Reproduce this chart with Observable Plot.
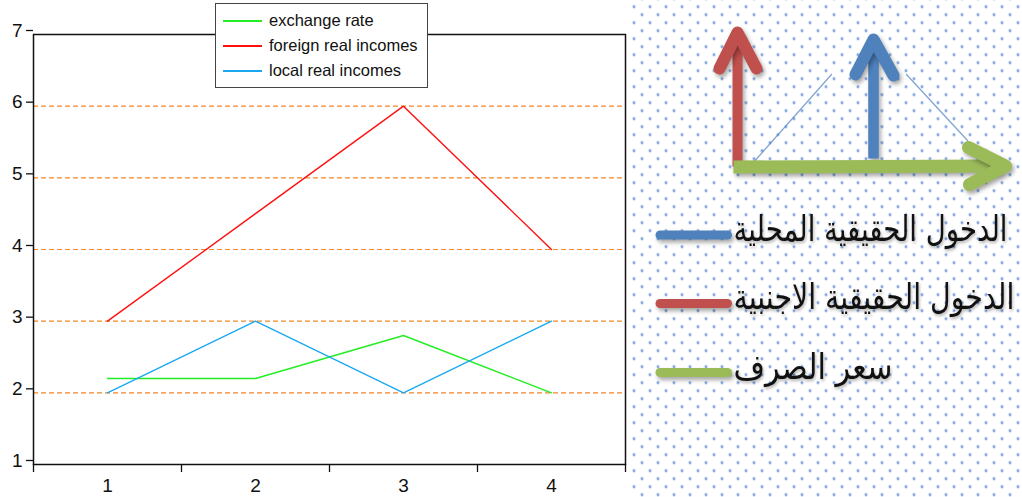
<!DOCTYPE html>
<html><head><meta charset="utf-8">
<script src="https://cdn.jsdelivr.net/npm/d3@7"></script>
<script src="https://cdn.jsdelivr.net/npm/@observablehq/plot@0.6"></script>
<style>
html,body{margin:0;padding:0;background:#fff;}
#wrap{position:relative;width:1022px;height:497px;overflow:hidden;background:#fff;}
#left{position:absolute;left:0;top:0;width:630px;height:497px;}
#right{position:absolute;left:630px;top:0;width:392px;height:497px;
 background-image:
  radial-gradient(circle at center, #7fa5dc 0, #7fa5dc 0.9px, rgba(127,165,220,0.35) 1.6px, rgba(255,255,255,0) 2.2px),
  radial-gradient(circle at center, #7fa5dc 0, #7fa5dc 0.9px, rgba(127,165,220,0.35) 1.6px, rgba(255,255,255,0) 2.2px);
 background-size:16px 16px,16px 16px;
 background-position:4px 6.7px,-4px -1.3px;}
#legend{position:absolute;left:215px;top:3px;width:211px;height:83px;border:1px solid #444;background:#fff;
 font-family:"Liberation Sans",Arial,sans-serif;font-size:16.5px;color:#111;}
#legend .sw{position:absolute;left:7px;width:39px;height:2px;}
#legend .lb{position:absolute;left:53px;height:20px;line-height:20px;white-space:nowrap;}
</style>
</head><body>
<div id="wrap">
  <div id="left"></div>
  <div id="legend"></div>
  <div id="right"></div>
</div>
<script>
// ---- data ----
const periods = [1, 2, 3, 4];
const exchangeRate = [2.2, 2.2, 2.8, 2.0];
const foreignIncomes = [3, 4.5, 6, 4];
const localIncomes = [2, 3, 2, 3];
const seriesNames = ["exchange rate", "foreign real incomes", "local real incomes"];
const seriesColors = ["#22ee22", "#ff1010", "#1aa8f2"];
const yTicks = [1, 2, 3, 4, 5, 6, 7];
const gridValues = [2, 3, 4, 5, 6];
const xBoundaries = [0.5, 1.5, 2.5, 3.5, 4.5];

// decorative panel (page pixel coordinates)
const arabicLabels = ["الدخول الحقيقية المحلية", "الدخول الحقيقية الاجنبية", "سعر الصرف"];
const arabicColors = ["#4f81bd", "#c0504d", "#9bbb59"];
const arabicY = [229, 297, 367];
const arabicWidths = [274, 281, 159];
const swatchY = [234.5, 303, 372];
const redShaft = [[737, 166], [737, 40]];
const blueShaft = [[873, 158], [873, 46]];
const greenShaft = [[733, 166.5], [1000, 165.5]];
const redHead = [[719, 68], [737, 32], [756, 68]];
const blueHead = [[855, 74], [873, 39], [893, 75]];
const greenHead = [[968, 147], [1005, 165.5], [969, 184]];
const thinLine1 = [[752, 163], [831, 74]];
const thinLine2 = [[906, 74], [967, 140]];

// ---- left chart ----
const seriesValues = [exchangeRate, foreignIncomes, localIncomes];
const left = Plot.plot({
  width: 630, height: 497,
  marginLeft: 33, marginRight: 5, marginTop: 34, marginBottom: 33,
  x: {domain: [0.5, 4.5]},
  y: {domain: [1, 7]},
  style: {fontFamily: "Liberation Sans, Arial, sans-serif", fontSize: "19px", color: "#111", background: "white"},
  marks: [
    Plot.ruleY(gridValues, {stroke: "#f08a2a", strokeDasharray: "5,3", strokeWidth: 1.1}),
    ...seriesValues.map((vals, k) =>
      Plot.lineY(vals, {x: (d, i) => periods[i], y: d => d, stroke: seriesColors[k], strokeWidth: 1.4})
    ),
    Plot.axisY(yTicks, {tickSize: 7, tickPadding: 4, fontSize: 19, dy: -4, label: null, strokeWidth: 1.3, tickFormat: d => String(d)}),
    Plot.axisX(xBoundaries, {tickSize: 8, tickFormat: () => "", label: null, strokeWidth: 1.3}),
    Plot.axisX(periods, {tickSize: 0, tickPadding: 14, fontSize: 19, label: null, tickFormat: d => String(d)}),
    Plot.frame({stroke: "#111", strokeWidth: 1.5})
  ]
});
document.getElementById("left").appendChild(left);

// legend
const legend = document.getElementById("legend");
const rowCenters = [17, 42, 67];
seriesNames.forEach((name, i) => {
  const sw = document.createElement("div");
  sw.className = "sw";
  sw.style.top = (rowCenters[i] - 1) + "px";
  sw.style.background = seriesColors[i];
  legend.appendChild(sw);
  const lb = document.createElement("div");
  lb.className = "lb";
  lb.style.top = (rowCenters[i] - 11) + "px";
  lb.textContent = name;
  legend.appendChild(lb);
});

// ---- right decorative panel ----
const P = a => a.map(([x, y]) => ({x, y}));
const swatches = swatchY.map(y => P([[659.5, y], [727, y]]));
const right = Plot.plot({
  width: 392, height: 497, margin: 0,
  x: {domain: [630, 1022], range: [0, 392], axis: null},
  y: {domain: [0, 497], range: [0, 497], axis: null},
  style: {background: "transparent"},
  marks: [
    Plot.line(P(thinLine1), {x: "x", y: "y", stroke: "#5b86c4", strokeWidth: 1.3, strokeOpacity: 0.75}),
    Plot.line(P(thinLine2), {x: "x", y: "y", stroke: "#5b86c4", strokeWidth: 1.3, strokeOpacity: 0.75}),
    Plot.line(P(redShaft), {x: "x", y: "y", stroke: "#c0504d", strokeWidth: 10, strokeLinecap: "butt"}),
    Plot.line(P(redHead), {x: "x", y: "y", stroke: "#c0504d", strokeWidth: 12, strokeLinecap: "round", strokeLinejoin: "round"}),
    Plot.line(P(blueShaft), {x: "x", y: "y", stroke: "#4f81bd", strokeWidth: 10.5, strokeLinecap: "butt"}),
    Plot.line(P(blueHead), {x: "x", y: "y", stroke: "#4f81bd", strokeWidth: 12, strokeLinecap: "round", strokeLinejoin: "round"}),
    Plot.line(P(greenShaft), {x: "x", y: "y", stroke: "#9bbb59", strokeWidth: 13, strokeLinecap: "butt"}),
    Plot.line(P(greenHead), {x: "x", y: "y", stroke: "#9bbb59", strokeWidth: 13, strokeLinecap: "round", strokeLinejoin: "round"}),
    ...swatches.map((s, i) => Plot.line(s, {x: "x", y: "y", stroke: arabicColors[i], strokeWidth: 9, strokeLinecap: "round"})),
    Plot.text(arabicLabels, {
      x: 733, y: (d, i) => arabicY[i], text: d => d,
      textAnchor: "start", lineAnchor: "middle",
      fontSize: 35, fontFamily: "DejaVu Sans", fill: "#111"
    })
  ]
});
document.getElementById("right").appendChild(right);

// soft shadows on the thick strokes and labels
const lineGroups = right.querySelectorAll('g[aria-label="line"]');
lineGroups.forEach((g, i) => {
  if (i >= 2) g.setAttribute("style", "filter: drop-shadow(2px 3px 2px rgba(0,0,0,0.35))");
});
const textGroup = right.querySelector('g[aria-label="text"]');
if (textGroup) textGroup.setAttribute("style", "filter: drop-shadow(1px 2px 1.5px rgba(0,0,0,0.3))");

// compress Arabic labels horizontally to the reference widths
right.querySelectorAll('g[aria-label="text"] text').forEach((t, i) => {
  const bb = t.getBBox();
  const s = arabicWidths[i] / bb.width;
  const tr = t.getAttribute("transform") || "";
  t.setAttribute("transform", `${tr} translate(${bb.x},0) scale(${s},1) translate(${-bb.x},0)`);
});
</script>
</body></html>
